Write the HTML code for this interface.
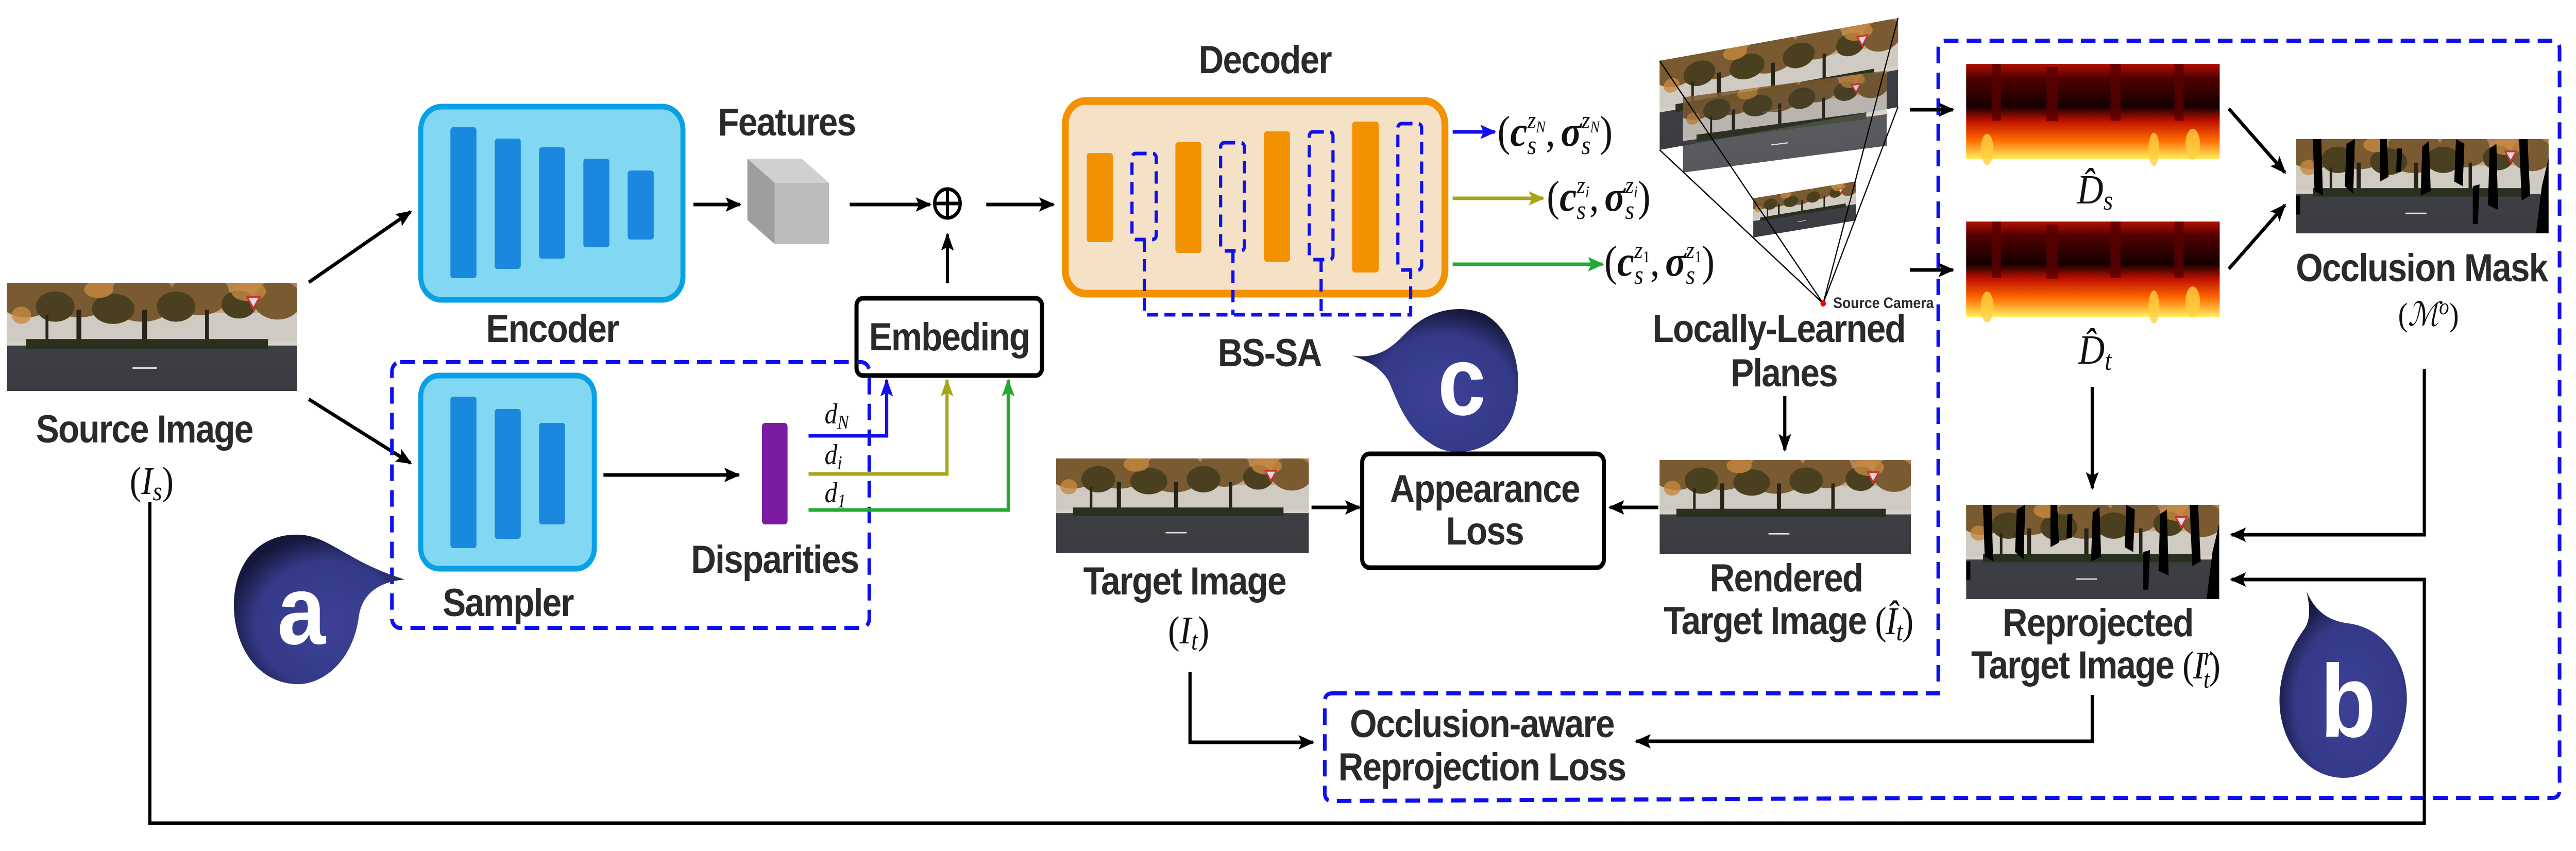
<!DOCTYPE html>
<html><head><meta charset="utf-8"><style>
html,body{margin:0;padding:0;background:#fff;overflow:hidden;width:100%;height:100%;}
svg{display:block;width:100vw;height:100vh;}
.t{font-family:"Liberation Sans",Arial,sans-serif;font-weight:bold;fill:#2a2a2a;letter-spacing:-2px;}
.m{font-family:"Liberation Serif","DejaVu Serif",serif;font-style:italic;fill:#111;}
.mr{font-family:"Liberation Serif","DejaVu Serif",serif;fill:#111;}
</style></head><body>
<svg viewBox="0 0 5639 1652" preserveAspectRatio="none" xmlns="http://www.w3.org/2000/svg">
<defs>
<marker id="ak" viewBox="0 0 10 10" refX="9" refY="5" markerWidth="5" markerHeight="5" orient="auto" markerUnits="strokeWidth"><path d="M0,1 L10,5 L0,9 L2,5z" fill="#000"/></marker>
<marker id="ab" viewBox="0 0 10 10" refX="9" refY="5" markerWidth="5" markerHeight="5" orient="auto" markerUnits="strokeWidth"><path d="M0,1 L10,5 L0,9 L2,5z" fill="#1010ee"/></marker>
<marker id="ao" viewBox="0 0 10 10" refX="9" refY="5" markerWidth="5" markerHeight="5" orient="auto" markerUnits="strokeWidth"><path d="M0,1 L10,5 L0,9 L2,5z" fill="#a8a51a"/></marker>
<marker id="ag" viewBox="0 0 10 10" refX="9" refY="5" markerWidth="5" markerHeight="5" orient="auto" markerUnits="strokeWidth"><path d="M0,1 L10,5 L0,9 L2,5z" fill="#22aa33"/></marker>
<linearGradient id="road" x1="0" y1="0" x2="0" y2="1"><stop offset="0" stop-color="#4a4b4e"/><stop offset="1" stop-color="#35373c"/></linearGradient>
<linearGradient id="sky" x1="0" y1="0" x2="0" y2="1"><stop offset="0" stop-color="#b08050"/><stop offset="1" stop-color="#d8d4cc"/></linearGradient>
<linearGradient id="heat" x1="0" y1="0" x2="0" y2="1">
<stop offset="0" stop-color="#b01000"/><stop offset="0.15" stop-color="#500000"/><stop offset="0.45" stop-color="#150000"/><stop offset="0.6" stop-color="#c01000"/><stop offset="0.8" stop-color="#ff6a00"/><stop offset="1" stop-color="#fff060"/></linearGradient>
<radialGradient id="bub" cx="0.55" cy="0.6" r="0.6"><stop offset="0" stop-color="#3c4196"/><stop offset="0.7" stop-color="#343a88"/><stop offset="1" stop-color="#15173a"/></radialGradient>
<symbol id="scene" viewBox="0 0 300 100" preserveAspectRatio="none">
<rect width="300" height="100" fill="url(#road)"/>
<rect width="300" height="58" fill="url(#sky)"/>
<rect x="0" y="28" width="300" height="26" fill="#cfcac2"/>
<g fill="#7a5a30"><ellipse cx="20" cy="12" rx="30" ry="20"/><ellipse cx="75" cy="10" rx="35" ry="22"/><ellipse cx="140" cy="14" rx="35" ry="22"/><ellipse cx="200" cy="10" rx="30" ry="20"/><ellipse cx="280" cy="16" rx="25" ry="18"/></g>
<g fill="#4a4020"><ellipse cx="50" cy="22" rx="20" ry="14"/><ellipse cx="110" cy="24" rx="22" ry="14"/><ellipse cx="175" cy="22" rx="20" ry="14"/><ellipse cx="240" cy="20" rx="18" ry="13"/></g>
<g fill="#c68a40" opacity="0.8"><ellipse cx="95" cy="6" rx="15" ry="8"/><ellipse cx="250" cy="8" rx="18" ry="9"/><ellipse cx="15" cy="30" rx="10" ry="8"/></g>
<g fill="#2a2418"><rect x="72" y="25" width="5" height="35"/><rect x="140" y="25" width="5" height="35"/><rect x="205" y="25" width="4" height="32"/><rect x="40" y="30" width="3" height="28"/></g>
<rect x="20" y="52" width="250" height="9" fill="#2a3020"/>
<path d="M0,100 L0,65 Q150,58 300,70 L300,100 Z" fill="#3e4044" opacity="0.6"/>
<rect x="130" y="78" width="25" height="1.5" fill="#ddd"/>
<polygon points="247,12 263,12 255,26" fill="#c33"/><polygon points="250,14 260,14 255,22" fill="#ddd"/>
</symbol>
<symbol id="occl" viewBox="0 0 300 100" preserveAspectRatio="none">
<g fill="#000"><path d="M20,0 L30,0 L32,60 L22,55Z"/><path d="M60,5 L70,0 L68,58 L58,50Z"/><path d="M100,0 L108,0 L110,40 L100,45Z"/><path d="M150,8 L158,2 L160,55 L148,60Z"/><path d="M190,0 L200,5 L198,50 L188,45Z"/><path d="M230,10 L238,5 L240,75 L228,70Z"/><path d="M265,0 L275,0 L278,60 L268,65Z"/><path d="M292,50 L300,20 L300,100 L285,100Z"/><path d="M0,60 L5,60 L5,80 L0,80Z"/><path d="M120,10 L126,10 L125,35 L119,35Z"/><path d="M210,50 L218,48 L216,90 L210,90Z"/></g>
</symbol>
</defs>

<use href="#scene" x="15" y="549" width="635" height="210"/>
<text class="t" x="316" y="859" font-size="76" text-anchor="middle">Source Image</text>
<text class="mr" x="332" y="959" font-size="76" text-anchor="middle">(<tspan class="m">I</tspan><tspan class="m" font-size="52" dy="12">s</tspan><tspan dy="-12">)</tspan></text>

<line x1="676" y1="548" x2="899" y2="411" stroke="#000" stroke-width="7" marker-end="url(#ak)"/>
<line x1="676" y1="775" x2="899" y2="899" stroke="#000" stroke-width="7" marker-end="url(#ak)"/>

<rect x="921" y="207" width="574" height="375" rx="45" fill="#82d8f2" stroke="#0aa0e6" stroke-width="11"/>
<g fill="#1a88dc">
<rect x="986" y="247" width="57" height="293" rx="6"/>
<rect x="1083" y="269" width="57" height="253" rx="6"/>
<rect x="1180" y="286" width="57" height="216" rx="6"/>
<rect x="1277" y="308" width="57" height="172" rx="6"/>
<rect x="1374" y="331" width="57" height="134" rx="6"/>
</g>
<text class="t" x="1209" y="664" font-size="76" text-anchor="middle">Encoder</text>

<text class="t" x="1722" y="263" font-size="76" text-anchor="middle">Features</text>
<polygon points="1636,308 1755,308 1815,355 1696,355" fill="#d0d0d0"/>
<polygon points="1636,308 1696,355 1696,474 1636,427" fill="#9e9e9e"/>
<rect x="1696" y="355" width="119" height="119" fill="#bcbcbc"/>
<line x1="1518" y1="397" x2="1620" y2="397" stroke="#000" stroke-width="7" marker-end="url(#ak)"/>
<line x1="1860" y1="397" x2="2036" y2="397" stroke="#000" stroke-width="7" marker-end="url(#ak)"/>

<circle cx="2074" cy="395" r="28" fill="none" stroke="#000" stroke-width="7"/>
<line x1="2046" y1="395" x2="2102" y2="395" stroke="#000" stroke-width="7"/>
<line x1="2074" y1="367" x2="2074" y2="423" stroke="#000" stroke-width="7"/>
<line x1="2074" y1="550" x2="2074" y2="455" stroke="#000" stroke-width="7" marker-end="url(#ak)"/>
<line x1="2159" y1="397" x2="2306" y2="397" stroke="#000" stroke-width="7" marker-end="url(#ak)"/>

<rect x="1875" y="579" width="406" height="150" rx="14" fill="#fff" stroke="#000" stroke-width="9"/>
<text class="t" x="2078" y="680" font-size="76" text-anchor="middle">Embeding</text>

<rect x="858" y="703" width="1045" height="516" rx="18" fill="none" stroke="#1010ee" stroke-width="8" stroke-dasharray="32 18"/>
<rect x="921" y="729" width="380" height="375" rx="40" fill="#82d8f2" stroke="#0aa0e6" stroke-width="11"/>
<g fill="#1a88dc">
<rect x="986" y="770" width="57" height="294" rx="6"/>
<rect x="1083" y="794" width="57" height="252" rx="6"/>
<rect x="1180" y="821" width="57" height="197" rx="6"/>
</g>
<text class="t" x="1112" y="1196" font-size="76" text-anchor="middle">Sampler</text>
<line x1="1321" y1="922" x2="1617" y2="922" stroke="#000" stroke-width="7" marker-end="url(#ak)"/>
<rect x="1668" y="821" width="56" height="197" rx="7" fill="#7b1ba4"/>
<text class="t" x="1696" y="1112" font-size="76" text-anchor="middle">Disparities</text>

<polyline points="1770,846 1941,846 1941,738" fill="none" stroke="#1010ee" stroke-width="7" marker-end="url(#ab)"/>
<polyline points="1770,920 2073,920 2073,738" fill="none" stroke="#a8a51a" stroke-width="7" marker-end="url(#ao)"/>
<polyline points="1770,990 2207,990 2207,738" fill="none" stroke="#22aa33" stroke-width="7" marker-end="url(#ag)"/>
<text class="m" x="1805" y="822" font-size="56">d<tspan font-size="38" dy="10">N</tspan></text>
<text class="m" x="1805" y="901" font-size="56">d<tspan font-size="38" dy="10">i</tspan></text>
<text class="m" x="1805" y="975" font-size="56">d<tspan class="mr" font-size="38" dy="10">1</tspan></text>

<path d="M886,1125 C820,1130 790,1160 785,1200 C770,1290 700,1330 650,1328 C560,1326 510,1250 512,1170 C515,1080 580,1035 655,1038 C720,1040 760,1090 886,1125 Z" fill="url(#bub)"/>
<text x="660" y="1250" font-family="Liberation Sans,sans-serif" font-weight="bold" font-size="190" fill="#fff" text-anchor="middle">a</text>

<text class="t" x="2769" y="142" font-size="76" text-anchor="middle">Decoder</text>
<rect x="2332" y="196" width="831" height="374" rx="45" fill="#f5e2c6" stroke="#f39200" stroke-width="15"/>
<g fill="#f39200">
<rect x="2379" y="297" width="57" height="173" rx="6"/>
<rect x="2573" y="276" width="57" height="215" rx="6"/>
<rect x="2767" y="255" width="57" height="253" rx="6"/>
<rect x="2960" y="236" width="58" height="293" rx="6"/>
</g>
<g fill="none" stroke="#1010ee" stroke-width="7" stroke-dasharray="24 14">
<rect x="2478" y="298" width="53" height="167" rx="8"/>
<rect x="2672" y="277" width="52" height="210" rx="8"/>
<rect x="2866" y="256" width="52" height="248" rx="8"/>
<rect x="3060" y="240" width="52" height="284" rx="8"/>
<polyline points="2505,465 2505,611 3088,611 3088,524"/>
<line x1="2699" y1="487" x2="2699" y2="611"/>
<line x1="2892" y1="504" x2="2892" y2="611"/>
</g>
<text class="t" x="2779" y="711" font-size="76" text-anchor="middle">BS-SA</text>

<line x1="3180" y1="256" x2="3272" y2="256" stroke="#1010ee" stroke-width="7" marker-end="url(#ab)"/>
<line x1="3180" y1="385" x2="3378" y2="385" stroke="#a8a51a" stroke-width="7" marker-end="url(#ao)"/>
<line x1="3180" y1="513" x2="3508" y2="513" stroke="#22aa33" stroke-width="7" marker-end="url(#ag)"/>
<text class="mr" x="3278" y="283" font-size="84">(<tspan class="m" font-weight="bold">c</tspan><tspan class="m" font-size="52" dy="16">s</tspan><tspan class="m" font-size="48" dx="-20" dy="-50">z</tspan><tspan class="m" font-size="32" dy="8">N</tspan><tspan dy="26">,</tspan><tspan class="m" font-weight="bold" dx="12">σ</tspan><tspan class="m" font-size="52" dy="16">s</tspan><tspan class="m" font-size="48" dx="-20" dy="-50">z</tspan><tspan class="m" font-size="32" dy="8">N</tspan><tspan dy="26">)</tspan></text>
<text class="mr" x="3386" y="409" font-size="84">(<tspan class="m" font-weight="bold">c</tspan><tspan class="m" font-size="52" dy="16">s</tspan><tspan class="m" font-size="48" dx="-20" dy="-50">z</tspan><tspan class="m" font-size="32" dy="8">i</tspan><tspan dy="26">,</tspan><tspan class="m" font-weight="bold" dx="12">σ</tspan><tspan class="m" font-size="52" dy="16">s</tspan><tspan class="m" font-size="48" dx="-20" dy="-50">z</tspan><tspan class="m" font-size="32" dy="8">i</tspan><tspan dy="26">)</tspan></text>
<text class="mr" x="3512" y="535" font-size="84">(<tspan class="m" font-weight="bold">c</tspan><tspan class="m" font-size="52" dy="16">s</tspan><tspan class="m" font-size="48" dx="-20" dy="-50">z</tspan><tspan font-size="32" dy="8">1</tspan><tspan dy="26">,</tspan><tspan class="m" font-weight="bold" dx="12">σ</tspan><tspan class="m" font-size="52" dy="16">s</tspan><tspan class="m" font-size="48" dx="-20" dy="-50">z</tspan><tspan font-size="32" dy="8">1</tspan><tspan dy="26">)</tspan></text>

<path d="M2959,690 C3030,700 3060,660 3085,640 C3130,600 3200,590 3250,610 C3320,645 3340,740 3310,810 C3280,870 3200,890 3150,870 C3080,840 3060,780 3040,740 C3020,710 2990,700 2959,690 Z" fill="url(#bub)"/>
<text x="3200" y="805" font-family="Liberation Sans,sans-serif" font-weight="bold" font-size="190" fill="#fff" text-anchor="middle">c</text>

<use href="#scene" x="2312" y="890" width="553" height="183"/>
<text class="t" x="2593" y="1154" font-size="76" text-anchor="middle">Target Image</text>
<text class="mr" x="2602" y="1249" font-size="76" text-anchor="middle">(<tspan class="m">I</tspan><tspan class="m" font-size="52" dy="12">t</tspan><tspan dy="-12">)</tspan></text>
<line x1="2871" y1="985" x2="2976" y2="985" stroke="#000" stroke-width="7" marker-end="url(#ak)"/>

<rect x="2982" y="881" width="529" height="221" rx="16" fill="#fff" stroke="#000" stroke-width="9"/>
<text class="t" x="3250" y="975" font-size="76" text-anchor="middle">Appearance</text>
<text class="t" x="3250" y="1057" font-size="76" text-anchor="middle">Loss</text>
<line x1="3630" y1="985" x2="3524" y2="985" stroke="#000" stroke-width="7" marker-end="url(#ak)"/>

<use href="#scene" width="1" height="1" transform="matrix(522,-83,0,173,3633,118)"/>
<use href="#scene" width="1" height="1" opacity="0.85" transform="matrix(446,-52,0,146,3684,189)"/>
<use href="#scene" width="1" height="1" transform="matrix(225,-33,0,76,3838,385)"/>
<g stroke="#000" stroke-width="2.5">
<line x1="3633" y1="118" x2="3991" y2="589"/>
<line x1="3633" y1="291" x2="3991" y2="589"/>
<line x1="4155" y1="35" x2="3991" y2="589"/>
<line x1="4155" y1="207" x2="3991" y2="589"/>
</g>
<circle cx="3991" cy="589" r="6" fill="#f00"/>
<text class="t" x="4013" y="598" font-size="30" style="letter-spacing:0">Source Camera</text>
<text class="t" x="3894" y="664" font-size="76" text-anchor="middle">Locally-Learned</text>
<text class="t" x="3905" y="750" font-size="76" text-anchor="middle">Planes</text>
<line x1="3907" y1="769" x2="3907" y2="874" stroke="#000" stroke-width="7" marker-end="url(#ak)"/>

<use href="#scene" x="3633" y="893" width="550" height="182"/>
<text class="t" x="3910" y="1148" font-size="76" text-anchor="middle">Rendered</text>
<text class="t" x="3642" y="1231" font-size="76">Target Image <tspan class="mr" font-weight="normal">(<tspan class="m">Î</tspan><tspan class="m" font-size="52" dy="12">t</tspan><tspan dy="-12">)</tspan></tspan></text>

<path d="M2916,1346 L4243,1346 L4243,95 Q4243,79 4259,79 L5587,79 Q5603,79 5603,95 L5603,1533 Q5603,1549 5587,1549 L4250,1549 L2916,1555 Q2900,1555 2900,1539 L2900,1362 Q2900,1346 2916,1346 Z" fill="none" stroke="#1010ee" stroke-width="8" stroke-dasharray="32 18"/>
<text class="t" x="3244" y="1431" font-size="76" text-anchor="middle">Occlusion-aware</text>
<text class="t" x="3244" y="1515" font-size="76" text-anchor="middle">Reprojection Loss</text>

<line x1="4181" y1="213" x2="4275" y2="213" stroke="#000" stroke-width="7" marker-end="url(#ak)"/>
<line x1="4181" y1="524" x2="4275" y2="524" stroke="#000" stroke-width="7" marker-end="url(#ak)"/>
<rect x="4304" y="124" width="555" height="185" fill="url(#heat)"/>
<g fill="#5a0000" opacity="0.8"><rect x="4360" y="124" width="20" height="110"/><rect x="4480" y="130" width="25" height="105"/><rect x="4620" y="124" width="22" height="110"/><rect x="4760" y="124" width="20" height="110"/></g>
<g fill="#ffd040" opacity="0.8"><ellipse cx="4350" cy="290" rx="14" ry="30"/><ellipse cx="4715" cy="290" rx="12" ry="32"/><ellipse cx="4800" cy="280" rx="16" ry="30"/></g>
<rect x="4304" y="430" width="555" height="185" fill="url(#heat)"/>
<g fill="#5a0000" opacity="0.8"><rect x="4360" y="430" width="20" height="110"/><rect x="4480" y="436" width="25" height="105"/><rect x="4620" y="430" width="22" height="110"/><rect x="4760" y="430" width="20" height="110"/></g>
<g fill="#ffd040" opacity="0.8"><ellipse cx="4350" cy="596" rx="14" ry="30"/><ellipse cx="4715" cy="596" rx="12" ry="32"/><ellipse cx="4800" cy="586" rx="16" ry="30"/></g>
<text class="m" x="4586" y="395" font-size="80" text-anchor="middle">D̂<tspan font-size="54" dy="12">s</tspan></text>
<text class="m" x="4586" y="706" font-size="80" text-anchor="middle">D̂<tspan font-size="54" dy="12">t</tspan></text>
<line x1="4879" y1="211" x2="5002" y2="335" stroke="#000" stroke-width="7" marker-end="url(#ak)"/>
<line x1="4879" y1="522" x2="5002" y2="398" stroke="#000" stroke-width="7" marker-end="url(#ak)"/>

<use href="#scene" x="5026" y="270" width="553" height="183"/>
<use href="#occl" x="5026" y="270" width="553" height="183"/>
<text class="t" x="5301" y="546" font-size="76" text-anchor="middle">Occlusion Mask</text>
<text class="mr" x="5316" y="632" font-size="64" text-anchor="middle">(<tspan class="m">ℳ</tspan><tspan class="m" font-size="44" dy="-22">o</tspan><tspan dy="22">)</tspan></text>

<line x1="4580" y1="751" x2="4580" y2="948" stroke="#000" stroke-width="7" marker-end="url(#ak)"/>
<use href="#scene" x="4304" y="980" width="554" height="183"/>
<use href="#occl" x="4304" y="980" width="554" height="183"/>
<text class="t" x="4592" y="1235" font-size="76" text-anchor="middle">Reprojected</text>
<text class="t" x="4315" y="1317" font-size="76">Target Image <tspan class="mr" font-weight="normal">(<tspan class="m">I</tspan><tspan class="m" font-size="50" dy="-26">r</tspan><tspan class="m" font-size="50" dx="-18" dy="44">t</tspan><tspan dy="-18">)</tspan></tspan></text>

<polyline points="5307,716 5307,1038 4885,1038" fill="none" stroke="#000" stroke-width="7" marker-end="url(#ak)"/>
<polyline points="328,975 328,1598 5307,1598 5307,1125 4885,1125" fill="none" stroke="#000" stroke-width="7" marker-end="url(#ak)"/>
<polyline points="2605,1304 2605,1441 2874,1441" fill="none" stroke="#000" stroke-width="7" marker-end="url(#ak)"/>
<polyline points="4580,1349 4580,1439 3582,1439" fill="none" stroke="#000" stroke-width="7" marker-end="url(#ak)"/>

<path d="M5049,1148 C5070,1190 5100,1205 5140,1210 C5230,1220 5275,1300 5268,1370 C5260,1450 5200,1510 5130,1510 C5050,1510 4990,1440 4990,1360 C4990,1300 5020,1250 5045,1220 C5060,1200 5055,1170 5049,1148 Z" fill="url(#bub)"/>
<text x="5140" y="1430" font-family="Liberation Sans,sans-serif" font-weight="bold" font-size="200" fill="#fff" text-anchor="middle">b</text>
</svg>
</body></html>
